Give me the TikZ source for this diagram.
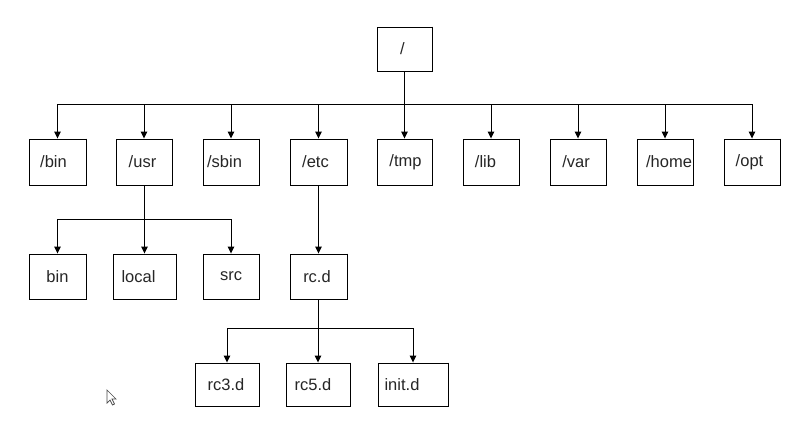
\documentclass[tikz,border=0pt]{standalone}
\usepackage{fontspec}
\setmainfont{Liberation Sans}
\usetikzlibrary{arrows.meta}
\begin{document}
\begin{tikzpicture}[x=1pt,y=-1pt,
  box/.style={draw=black,line width=0.9pt,inner sep=0pt,minimum width=56pt,minimum height=46pt,
    append after command={(\tikzlastnode.north east) edge[draw=black,line width=1.6pt,-] (\tikzlastnode.south east)
      (\tikzlastnode.south east) edge[draw=black,line width=1.6pt,-] (\tikzlastnode.south west)}},
  lbl/.style={font=\fontsize{16.5}{18}\selectfont,text=black!85,inner sep=0pt},
  arr/.style={draw=black,line width=1pt,-{Triangle[width=6.5pt,length=7pt]}}]
\useasboundingbox[fill=white] (0,0) rectangle (792,423);
% root
\node[box,minimum width=55pt,minimum height=44pt,label={[lbl,xshift=-2pt]center:/}] (root) at (404.5,49) {};
% level 1
\node[box,minimum width=57pt,label={[lbl,xshift=-4pt]center:/bin}] (bin) at (57.5,162) {};
\node[box,label={[lbl,xshift=-1.5pt]center:/usr}] (usr) at (144,162) {};
\node[box,label={[lbl,xshift=-6.5pt]center:/sbin}] (sbin) at (231,162) {};
\node[box,minimum width=57pt,label={[lbl,xshift=-3pt]center:/etc}] (etc) at (318.5,162) {};
\node[box,minimum width=55pt,label={[lbl,xshift=1pt]center:/tmp}] (tmp) at (404.5,162) {};
\node[box,label={[lbl,xshift=-5.5pt]center:/lib}] (lib) at (491,162) {};
\node[box,label={[lbl,xshift=-2pt]center:/var}] (var) at (578,162) {};
\node[box,label={[lbl,xshift=4pt]center:/home}] (home) at (665,162) {};
\node[box,label={[lbl,xshift=-2.5pt]center:/opt}] (opt) at (752,162) {};
% level 2
\node[box,minimum width=57pt,minimum height=45pt,label={[lbl]center:bin}] (ubin) at (57.5,276.5) {};
\node[box,minimum width=63pt,minimum height=45pt,label={[lbl,xshift=-6pt]center:local}] (local) at (144.5,276.5) {};
\node[box,minimum height=45pt,label={[lbl]center:src}] (src) at (231,276.5) {};
\node[box,minimum width=57pt,minimum height=45pt,label={[lbl,xshift=-1.5pt]center:rc.d}] (rcd) at (318.5,276.5) {};
% level 3
\node[box,minimum width=64pt,minimum height=43pt,label={[lbl,xshift=-1pt]center:rc3.d}] (rc3) at (227,384.5) {};
\node[box,minimum width=64pt,minimum height=43pt,label={[lbl,xshift=-5pt]center:rc5.d}] (rc5) at (318,384.5) {};
\node[box,minimum width=70pt,minimum height=43pt,label={[lbl,xshift=-11pt]center:init.d}] (init) at (413,384.5) {};
% connectors from root
\foreach \c in {bin,usr,sbin,etc,tmp,lib,var,home,opt}
  \draw[arr] (root.south) -- ++(0,33) -| (\c.north);
% /usr children
\foreach \c in {ubin,local,src}
  \draw[arr] (usr.south) -- ++(0,34) -| (\c.north);
% /etc child
\draw[arr] (etc.south) -- (rcd.north);
% rc.d children
\foreach \c in {rc3,rc5,init}
  \draw[arr] (rcd.south) -- ++(0,29) -| (\c.north);
% mouse pointer
\draw[black!70,line width=0.7pt,fill=white,line join=miter]
  (107,390) -- (107,403) -- (110,400) -- (112.5,405) -- (114.5,404) -- (112,399) -- (116,399) -- cycle;
\end{tikzpicture}
\end{document}
